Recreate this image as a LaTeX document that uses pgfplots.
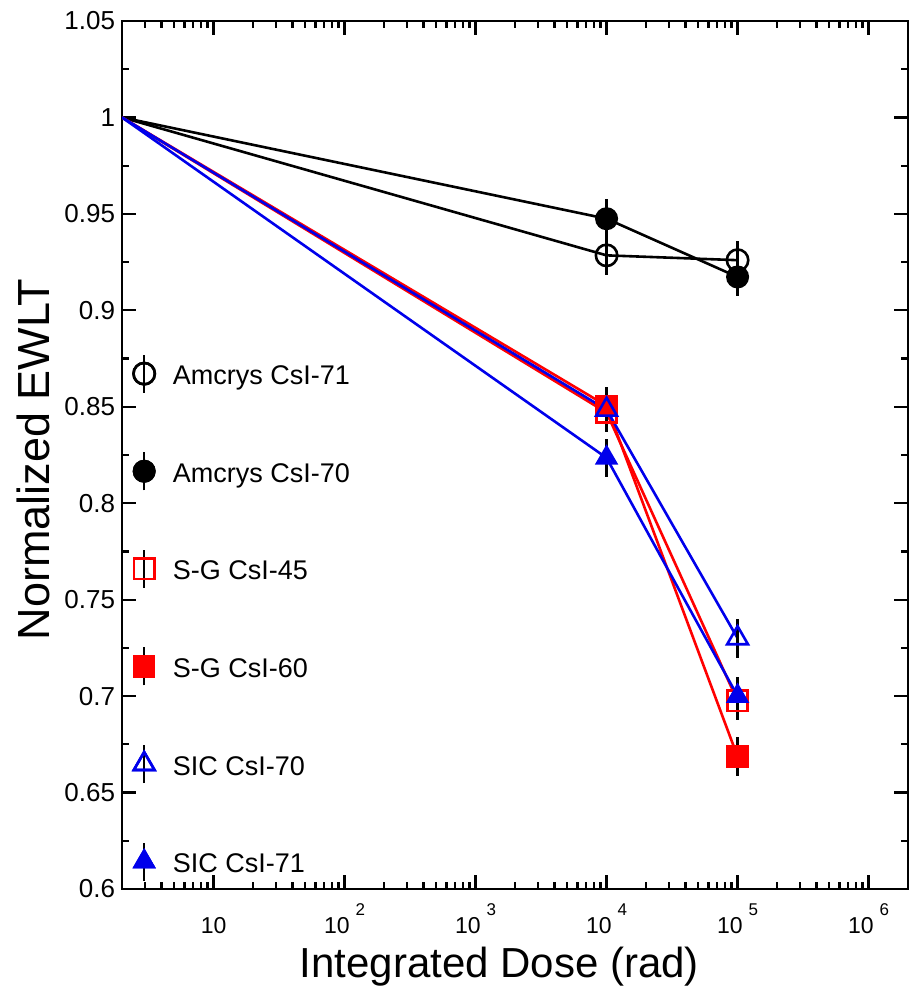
\documentclass[border=0pt]{standalone}
\usepackage{pgfplots}
\pgfplotsset{compat=1.18}
\usepackage{fontspec}
\setmainfont{Liberation Sans}
\definecolor{pred}{RGB}{255,0,0}
\definecolor{pblue}{RGB}{0,0,235}
\newcommand{\sq}[1]{10\hspace{6pt}\raisebox{19pt}{\fontsize{17}{17}\selectfont #1}}
\def\ly{2.5pt}
\pgfplotsset{
  errleg/.style={legend image code/.code={
    \draw[black,line width=2.6pt,overlay] (0pt,\ly-19pt) -- (0pt,\ly+19pt);
    \draw[mark repeat=2,mark phase=2] plot coordinates {(0pt,\ly) (0pt,\ly) (0pt,\ly)};
  }},
  ebar/.style={error bars/y dir=both, error bars/y explicit,
    error bars/error bar style={black, line width=2.6pt, solid},
    error bars/error mark=none},
}
\begin{document}
\begin{tikzpicture}
\useasboundingbox (0,0) rectangle (910pt,986pt);
\begin{axis}[
  at={(122pt,97pt)}, anchor=south west,
  scale only axis, width=786pt, height=868pt,
  xmode=log, xmin=2, xmax=2e6, ymin=0.6, ymax=1.05,
  xtick={10,100,1000,10000,100000,1000000},
  xticklabels={10,\sq{2},\sq{3},\sq{4},\sq{5},\sq{6}},
  minor xtick={2,3,4,5,6,7,8,9,20,30,40,50,60,70,80,90,200,300,400,500,600,700,800,900,
    2000,3000,4000,5000,6000,7000,8000,9000,2e4,3e4,4e4,5e4,6e4,7e4,8e4,9e4,
    2e5,3e5,4e5,5e5,6e5,7e5,8e5,9e5},
  ytick={0.6,0.65,0.7,0.75,0.8,0.85,0.9,0.95,1,1.05},
  yticklabels={0.6,0.65,0.7,0.75,0.8,0.85,0.9,0.95,1,1.05},
  minor y tick num=1,
  xtick pos=both, ytick pos=both,
  xticklabel pos=left, yticklabel pos=left,
  tick align=inside,
  major tick length=14pt, minor tick length=7pt,
  tick style={black, line width=2.3pt},
  axis line style={line width=2.7pt},
  xticklabel style={anchor=base, yshift=-45pt, font=\fontsize{23}{23}\selectfont},
  yticklabel style={xshift=-3.5pt, font=\fontsize{26}{26}\selectfont},
  xlabel={Integrated Dose (rad)},
  ylabel={Normalized EWLT},
  every axis x label/.style={at={(axis description cs:0.48,-0.1014)}, anchor=base, font=\fontsize{42}{42}\selectfont},
  every axis y label/.style={at={(axis description cs:-0.113,0.4948)}, rotate=90, anchor=center, font=\fontsize{45}{45}\selectfont},
  legend style={at={(0.0146,0.6087)}, anchor=north west, draw=none, fill=none,
    inner sep=0pt, outer sep=0pt, row sep=66.6pt, column sep=18pt,
    font=\fontsize{27}{27}\selectfont,
    nodes={inner sep=0pt, text height=24pt, text depth=7pt}},
  legend cell align=left,
]
\addplot[black, line width=2.6pt, mark=o, mark size=10.7pt, mark indices={2,3}, errleg, ebar]
  coordinates {(2,1) +- (0,0) (1e4,0.9285) +- (0,0.01) (1e5,0.926) +- (0,0.01)};
\addlegendentry{Amcrys CsI-71}
\addplot[black, line width=2.6pt, mark=*, mark size=10.2pt, mark indices={2,3}, errleg, ebar]
  coordinates {(2,1) +- (0,0) (1e4,0.9475) +- (0,0.01) (1e5,0.9173) +- (0,0.01)};
\addlegendentry{Amcrys CsI-70}
\addplot[pred, line width=2.6pt, mark=square, mark size=10.2pt, mark indices={2,3}, errleg, ebar]
  coordinates {(2,1) +- (0,0) (1e4,0.847) +- (0,0.01) (1e5,0.6975) +- (0,0.01)};
\addlegendentry{S-G CsI-45}
\addplot[pred, line width=2.6pt, mark=square*, mark size=10pt, mark indices={2,3}, errleg, ebar]
  coordinates {(2,1) +- (0,0) (1e4,0.8505) +- (0,0.01) (1e5,0.6686) +- (0,0.01)};
\addlegendentry{S-G CsI-60}
\addplot[pblue, line width=2.6pt, mark=triangle, mark size=12pt, mark indices={2,3}, errleg, ebar]
  coordinates {(2,1) +- (0,0) (1e4,0.8485) +- (0,0.01) (1e5,0.730) +- (0,0.01)};
\addlegendentry{SIC CsI-70}
\addplot[pblue, line width=2.6pt, mark=triangle*, mark size=11pt, mark indices={2,3}, errleg, ebar]
  coordinates {(2,1) +- (0,0) (1e4,0.8235) +- (0,0.01) (1e5,0.7) +- (0,0.01)};
\addlegendentry{SIC CsI-71}
\end{axis}
\end{tikzpicture}
\end{document}
